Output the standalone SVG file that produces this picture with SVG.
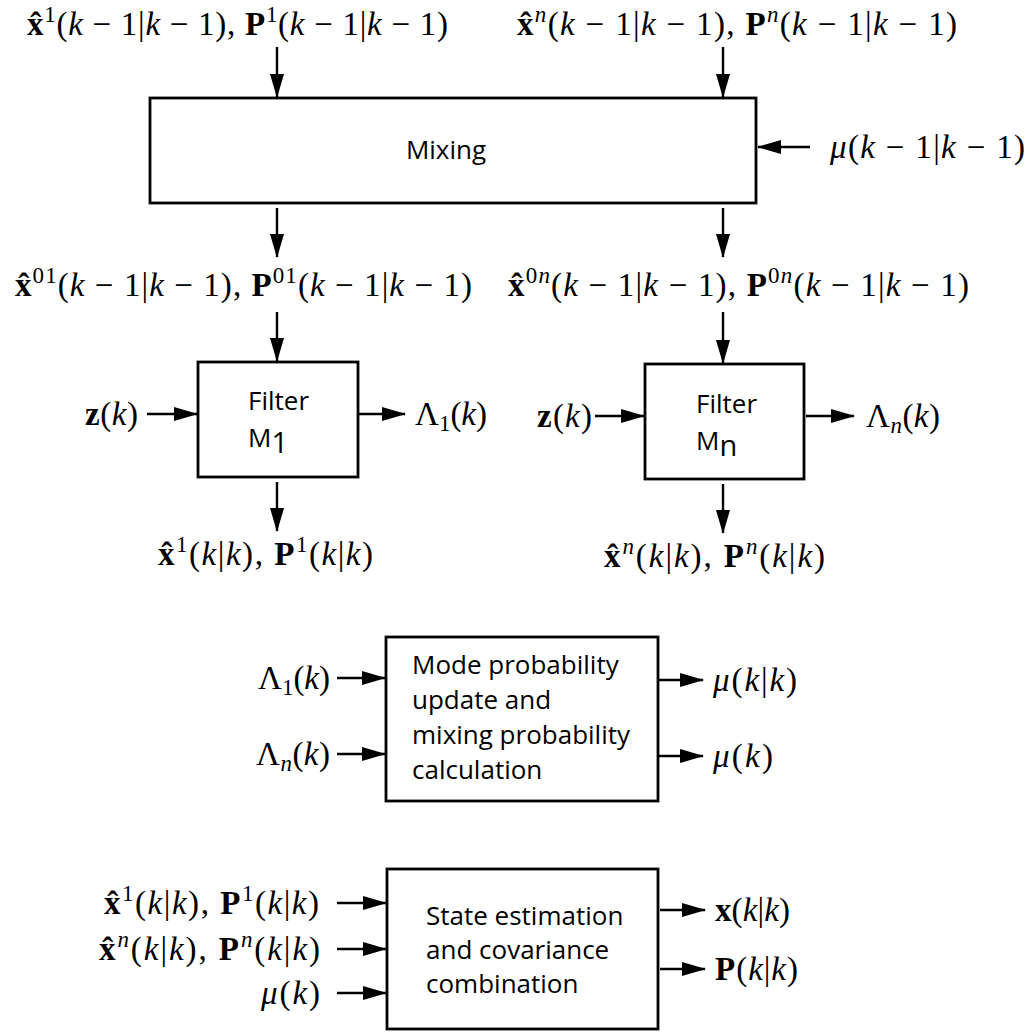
<svg xmlns="http://www.w3.org/2000/svg" width="1034" height="1032" viewBox="0 0 1034 1032">
  <style>
    .box { fill: #fff; stroke: #000; stroke-width: 2.8; }
    .conn line { stroke: #000; stroke-width: 2.4; marker-end: url(#ah); }
    .m { font-family: "Liberation Serif", "Times New Roman", serif; font-size: 33px; fill: #000; }
    .b { font-weight: bold; }
    .i { font-style: italic; }
    .sc { font-size: 23px; }
    .t { font-family: "Open Sans", "Liberation Sans", sans-serif; font-size: 26px; fill: #000; }
  </style>
  <defs>
    <marker id="ah" markerUnits="userSpaceOnUse" markerWidth="24" markerHeight="14" refX="23" refY="7" orient="auto" overflow="visible">
      <path d="M0,0 L24,7 L0,14 Z" fill="#000"/>
    </marker>
  </defs>

  <rect width="1034" height="1032" fill="#fff"/>

  <!-- processing blocks -->
  <g id="mixing">
    <rect class="box" x="150" y="98" width="606" height="105"/>
    <text class="t" x="446" y="159" text-anchor="middle">Mixing</text>
  </g>
  <g id="filter1">
    <rect class="box" x="198" y="362" width="160" height="115"/>
    <text class="t" x="248" y="410">Filter</text>
    <text class="t" x="248" y="447">M<tspan font-size="29" dy="6">1</tspan></text>
  </g>
  <g id="filtern">
    <rect class="box" x="645" y="364" width="159" height="115"/>
    <text class="t" x="696" y="413">Filter</text>
    <text class="t" x="696" y="450">M<tspan font-size="29" dy="6">n</tspan></text>
  </g>
  <g id="modeprob">
    <rect class="box" x="386" y="637" width="272" height="164"/>
    <text class="t" x="412" y="674">Mode probability</text>
    <text class="t" x="412" y="709">update and</text>
    <text class="t" x="412" y="744">mixing probability</text>
    <text class="t" x="412" y="779">calculation</text>
  </g>
  <g id="stateest">
    <rect class="box" x="387" y="869" width="271" height="160"/>
    <text class="t" x="426" y="925">State estimation</text>
    <text class="t" x="426" y="959">and covariance</text>
    <text class="t" x="426" y="993">combination</text>
  </g>

  <!-- connectors -->
  <g id="connectors" class="conn">
    <line x1="277" y1="47" x2="277" y2="97"/>
    <line x1="723" y1="47" x2="723" y2="97"/>
    <line x1="810" y1="147" x2="758" y2="147"/>
    <line x1="277" y1="208" x2="277" y2="257"/>
    <line x1="723" y1="208" x2="723" y2="257"/>
    <line x1="277" y1="312" x2="277" y2="361"/>
    <line x1="723" y1="312" x2="723" y2="363"/>
    <line x1="147" y1="414" x2="197" y2="414"/>
    <line x1="358" y1="414" x2="405" y2="414"/>
    <line x1="595" y1="416" x2="644" y2="416"/>
    <line x1="806" y1="416" x2="854" y2="416"/>
    <line x1="277" y1="482" x2="277" y2="531"/>
    <line x1="723" y1="484" x2="723" y2="533"/>
    <line x1="337" y1="678" x2="385" y2="678"/>
    <line x1="337" y1="754" x2="385" y2="754"/>
    <line x1="659" y1="680" x2="703" y2="680"/>
    <line x1="659" y1="756" x2="703" y2="756"/>
    <line x1="337" y1="903" x2="386" y2="903"/>
    <line x1="337" y1="949" x2="386" y2="949"/>
    <line x1="337" y1="993" x2="386" y2="993"/>
    <line x1="660" y1="910" x2="705" y2="910"/>
    <line x1="660" y1="969" x2="705" y2="969"/>
  </g>

  <!-- signal labels -->
  <g id="in-state1">
    <text class="m" x="27" y="35" textLength="421"><tspan class="b">x̂</tspan><tspan class="sc" dy="-13">1</tspan><tspan dy="13">(</tspan><tspan class="i">k</tspan> − 1|<tspan class="i">k</tspan> − 1), <tspan class="b">P</tspan><tspan class="sc" dy="-13">1</tspan><tspan dy="13">(</tspan><tspan class="i">k</tspan> − 1|<tspan class="i">k</tspan> − 1)</text>
  </g>
  <g id="in-staten">
    <text class="m" x="517" y="35" textLength="440"><tspan class="b">x̂</tspan><tspan class="sc i" dy="-13">n</tspan><tspan dy="13">(</tspan><tspan class="i">k</tspan> − 1|<tspan class="i">k</tspan> − 1), <tspan class="b">P</tspan><tspan class="sc i" dy="-13">n</tspan><tspan dy="13">(</tspan><tspan class="i">k</tspan> − 1|<tspan class="i">k</tspan> − 1)</text>
  </g>
  <g id="in-mu">
    <text class="m" x="830" y="158" textLength="195"><tspan class="i">μ</tspan>(<tspan class="i">k</tspan> − 1|<tspan class="i">k</tspan> − 1)</text>
  </g>
  <g id="mixed1">
    <text class="m" x="15" y="296" textLength="457"><tspan class="b">x̂</tspan><tspan class="sc" dy="-13">01</tspan><tspan dy="13">(</tspan><tspan class="i">k</tspan> − 1|<tspan class="i">k</tspan> − 1), <tspan class="b">P</tspan><tspan class="sc" dy="-13">01</tspan><tspan dy="13">(</tspan><tspan class="i">k</tspan> − 1|<tspan class="i">k</tspan> − 1)</text>
  </g>
  <g id="mixedn">
    <text class="m" x="508" y="296" textLength="461"><tspan class="b">x̂</tspan><tspan class="sc" dy="-13">0<tspan class="i">n</tspan></tspan><tspan dy="13">(</tspan><tspan class="i">k</tspan> − 1|<tspan class="i">k</tspan> − 1), <tspan class="b">P</tspan><tspan class="sc" dy="-13">0<tspan class="i">n</tspan></tspan><tspan dy="13">(</tspan><tspan class="i">k</tspan> − 1|<tspan class="i">k</tspan> − 1)</text>
  </g>
  <g id="meas1">
    <text class="m" x="85" y="425" textLength="53"><tspan class="b">z</tspan>(<tspan class="i">k</tspan>)</text>
  </g>
  <g id="lik1">
    <text class="m" x="415" y="425" textLength="72">Λ<tspan class="sc" dy="6">1</tspan><tspan dy="-6">(</tspan><tspan class="i">k</tspan>)</text>
  </g>
  <g id="measn">
    <text class="m" x="537" y="427" textLength="55"><tspan class="b">z</tspan>(<tspan class="i">k</tspan>)</text>
  </g>
  <g id="likn">
    <text class="m" x="866" y="427" textLength="74">Λ<tspan class="sc i" dy="6">n</tspan><tspan dy="-6">(</tspan><tspan class="i">k</tspan>)</text>
  </g>
  <g id="out-filter1">
    <text class="m" x="158" y="565" textLength="215"><tspan class="b">x̂</tspan><tspan class="sc" dy="-13">1</tspan><tspan dy="13">(</tspan><tspan class="i">k</tspan>|<tspan class="i">k</tspan>), <tspan class="b">P</tspan><tspan class="sc" dy="-13">1</tspan><tspan dy="13">(</tspan><tspan class="i">k</tspan>|<tspan class="i">k</tspan>)</text>
  </g>
  <g id="out-filtern">
    <text class="m" x="604" y="567" textLength="221"><tspan class="b">x̂</tspan><tspan class="sc i" dy="-13">n</tspan><tspan dy="13">(</tspan><tspan class="i">k</tspan>|<tspan class="i">k</tspan>), <tspan class="b">P</tspan><tspan class="sc i" dy="-13">n</tspan><tspan dy="13">(</tspan><tspan class="i">k</tspan>|<tspan class="i">k</tspan>)</text>
  </g>
  <g id="mode-in1">
    <text class="m" x="258" y="689" textLength="72">Λ<tspan class="sc" dy="6">1</tspan><tspan dy="-6">(</tspan><tspan class="i">k</tspan>)</text>
  </g>
  <g id="mode-inn">
    <text class="m" x="256" y="765" textLength="74">Λ<tspan class="sc i" dy="6">n</tspan><tspan dy="-6">(</tspan><tspan class="i">k</tspan>)</text>
  </g>
  <g id="mode-out1">
    <text class="m" x="713" y="691" textLength="84"><tspan class="i">μ</tspan>(<tspan class="i">k</tspan>|<tspan class="i">k</tspan>)</text>
  </g>
  <g id="mode-out2">
    <text class="m" x="713" y="767" textLength="60"><tspan class="i">μ</tspan>(<tspan class="i">k</tspan>)</text>
  </g>
  <g id="comb-in1">
    <text class="m" x="104" y="914" textLength="215"><tspan class="b">x̂</tspan><tspan class="sc" dy="-13">1</tspan><tspan dy="13">(</tspan><tspan class="i">k</tspan>|<tspan class="i">k</tspan>), <tspan class="b">P</tspan><tspan class="sc" dy="-13">1</tspan><tspan dy="13">(</tspan><tspan class="i">k</tspan>|<tspan class="i">k</tspan>)</text>
  </g>
  <g id="comb-in2">
    <text class="m" x="99" y="960" textLength="221"><tspan class="b">x̂</tspan><tspan class="sc i" dy="-13">n</tspan><tspan dy="13">(</tspan><tspan class="i">k</tspan>|<tspan class="i">k</tspan>), <tspan class="b">P</tspan><tspan class="sc i" dy="-13">n</tspan><tspan dy="13">(</tspan><tspan class="i">k</tspan>|<tspan class="i">k</tspan>)</text>
  </g>
  <g id="comb-in3">
    <text class="m" x="261" y="1004" textLength="59"><tspan class="i">μ</tspan>(<tspan class="i">k</tspan>)</text>
  </g>
  <g id="comb-out1">
    <text class="m" x="715" y="921" textLength="75"><tspan class="b">x</tspan>(<tspan class="i">k</tspan>|<tspan class="i">k</tspan>)</text>
  </g>
  <g id="comb-out2">
    <text class="m" x="715" y="980" textLength="83"><tspan class="b">P</tspan>(<tspan class="i">k</tspan>|<tspan class="i">k</tspan>)</text>
  </g>
</svg>
